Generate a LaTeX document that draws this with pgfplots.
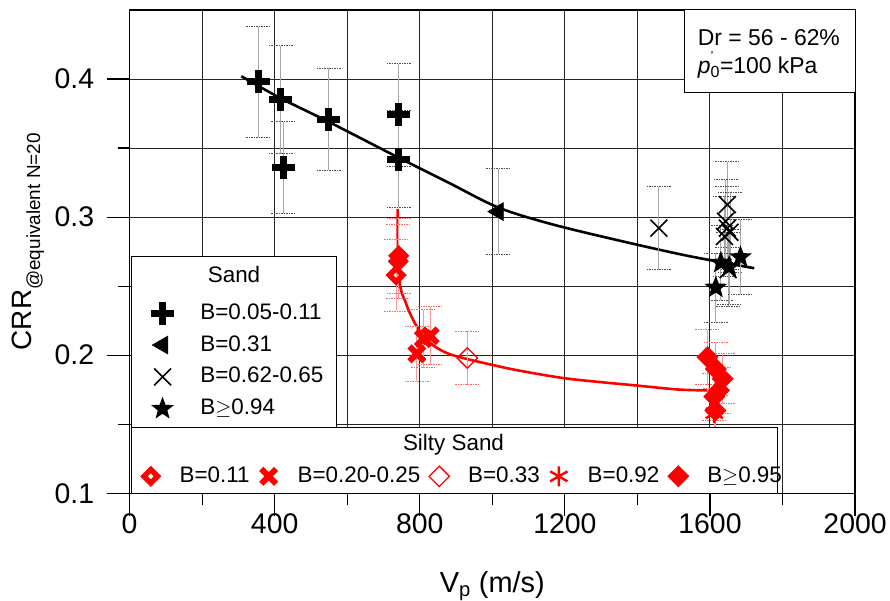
\documentclass[border=0pt]{standalone}
\usepackage{fontspec}
\setmainfont{Liberation Sans}
\usepackage{pgfplots}
\usepackage{pgfplotstable}
\pgfplotsset{compat=1.18}
\usetikzlibrary{plotmarks}

% filled five-pointed star
\pgfdeclareplotmark{fstar}{%
  \pgfmathsetmacro\ro{\pgfplotmarksize}%
  \pgfmathsetmacro\ri{0.42*\pgfplotmarksize}%
  \pgfpathmoveto{\pgfpointpolar{90}{\ro pt}}%
  \pgfpathlineto{\pgfpointpolar{126}{\ri pt}}%
  \pgfpathlineto{\pgfpointpolar{162}{\ro pt}}%
  \pgfpathlineto{\pgfpointpolar{198}{\ri pt}}%
  \pgfpathlineto{\pgfpointpolar{234}{\ro pt}}%
  \pgfpathlineto{\pgfpointpolar{270}{\ri pt}}%
  \pgfpathlineto{\pgfpointpolar{306}{\ro pt}}%
  \pgfpathlineto{\pgfpointpolar{342}{\ri pt}}%
  \pgfpathlineto{\pgfpointpolar{18}{\ro pt}}%
  \pgfpathlineto{\pgfpointpolar{54}{\ri pt}}%
  \pgfpathclose
  \pgfusepathqfill
}

% Sand, B = 0.05-0.11
\pgfplotstableread{
x    y     e
355  0.398 0.040
417  0.385 0.039
424  0.336 0.033
549  0.371 0.037
742  0.374 0.037
742  0.342 0.035
}\sandA
% Sand, B = 0.31
\pgfplotstableread{
x    y     e
1016 0.304 0.031
}\sandB
% Sand, B = 0.62-0.65
\pgfplotstableread{
x    y     e
1459 0.292 0.030
1648 0.309 0.031
1643 0.297 0.030
1648 0.292 0.030
1655 0.289 0.029
1640 0.286 0.029
1650 0.262 0.027
}\sandC
% Sand, B >= 0.94
\pgfplotstableread{
x    y     e
1684 0.271 0.027
1630 0.267 0.027
1653 0.264 0.027
1616 0.249 0.025
}\sandD
% Silty sand, B = 0.11
\pgfplotstableread{
x    y     e
742  0.272 0.027
741  0.268 0.027
735  0.258 0.026
}\siltA
% Silty sand, B = 0.20-0.25
\pgfplotstableread{
x    y     e
792  0.201 0.020
810  0.212 0.021
829  0.214 0.021
}\siltB
% Silty sand, B = 0.33
\pgfplotstableread{
x    y     e
931  0.198 0.0195
}\siltC
% Silty sand, B = 0.92
\pgfplotstableread{
x    y     e
1612 0.158 0.016
}\siltD
% Silty sand, B >= 0.95
\pgfplotstableread{
x    y     e
1593 0.1986 0.020
1616 0.190  0.019
1635 0.183  0.018
1625 0.1745 0.017
1612 0.170  0.017
1615 0.160  0.016
}\siltE

\pgfplotsset{
  greybars/.style={error bars/.cd, y dir=both, y explicit,
    error bar style={solid, black!35, line width=0.8pt},
    error mark=-,
    error mark options={rotate=90, solid, black!70, line width=0.9pt, mark size=12pt, dash pattern=on 1.5pt off 1pt},
    /pgfplots/.cd},
  redbars/.style={error bars/.cd, y dir=both, y explicit,
    error bar style={solid, red!40, line width=0.8pt},
    error mark=-,
    error mark options={rotate=90, solid, red!60, line width=0.9pt, mark size=12pt, dash pattern=on 1.5pt off 1pt},
    /pgfplots/.cd},
  mkcross/.style={black, only marks, mark=+, mark size=11.5pt, line width=7pt},
  mktri/.style={black, only marks, mark=triangle*, mark size=10.5pt, mark options={rotate=90}},
  mkx/.style={black, only marks, mark=x, mark size=12pt, line width=1.6pt},
  mkstar/.style={black, only marks, mark=fstar, mark size=12pt},
  mkdiaA/.style={red, only marks, mark=square, mark size=4.8pt, line width=5.4pt, mark options={rotate=45, fill=white, miter limit=10}},
  mkxB/.style={red, only marks, mark=x, mark size=10.5pt, line width=6pt},
  mkdiaC/.style={red, only marks, mark=square, mark size=7.2pt, line width=1.3pt, mark options={rotate=45, fill=white}},
  mkast/.style={red, only marks, mark=asterisk, mark size=10pt, line width=2.4pt},
  mkdiaE/.style={red, only marks, mark=square*, mark size=7.6pt, mark options={rotate=45}},
}

\begin{document}
\begin{tikzpicture}
\begin{axis}[
  name=main,
  width=728pt, height=485pt, scale only axis,
  xmin=0, xmax=2000, ymin=0.1, ymax=0.45,
  xtick={0,400,...,2000}, minor x tick num=1,
  ytick={0.1,0.2,0.3,0.4}, minor y tick num=1,
  grid=both,
  major grid style={black!85, line width=1pt},
  minor grid style={black!85, line width=1pt},
  axis line style={black, line width=1.4pt},
  tick style={black, line width=1.2pt},
  major tick length=23pt, minor tick length=12pt,
  tick align=outside, xtick pos=left, ytick pos=left,
  tick label style={font=\fontsize{28.5}{30}\selectfont},
  xticklabel style={yshift=6pt},
  yticklabel style={xshift=-9pt, /pgf/number format/fixed, /pgf/number format/precision=1},
  /pgf/number format/assume math mode=true,
  /pgf/number format/1000 sep={},
  xlabel={V\textsubscript{p} (m/s)},
  ylabel={CRR\raisebox{-0.3em}{\fontsize{19}{20}\selectfont @equivalent N=20}},
  xlabel style={font=\fontsize{29}{32}\selectfont, at={(axis description cs:0.5,0)}, anchor=south, yshift=-108pt, inner sep=0pt},
  ylabel style={font=\fontsize{28}{30}\selectfont, at={(axis description cs:-0.1621,0.5)}, anchor=north, inner sep=0pt, xshift=10pt},
  legend style={at={(axis cs:52,0.2400)}, anchor=north west, draw=none, fill=none,
    inner sep=0pt, font=\fontsize{22.5}{24}\selectfont, row sep=6pt,
    nodes={inner sep=3pt, text height=16pt, text depth=4pt}},
  legend cell align=left,
  legend image code/.code={%
    \path[draw=none, fill=none] (0pt,-6pt) rectangle (49pt,6pt);
    \draw[#1, overlay] plot coordinates {(14pt,0pt)};},
]
% fitted trends
\addplot[black, line width=2.6pt, smooth, forget plot] coordinates {
  (308,0.402) (417,0.386) (549,0.369) (742,0.343) (879,0.325) (1016,0.307)
  (1162,0.295) (1350,0.283) (1538,0.272) (1722,0.263)};
\addplot[red, line width=2.6pt, smooth, tension=0.5, forget plot] coordinates {
  (739,0.306) (739,0.285) (740,0.270) (742,0.259) (746,0.250) (752,0.244)
  (760,0.239) (770,0.232) (785,0.224) (800,0.2175) (820,0.211) (843,0.206)
  (880,0.201) (934,0.197) (1000,0.193) (1071,0.189) (1209,0.183) (1400,0.178)
  (1511,0.1752) (1593,0.1745)};

% legend frame for sand
\draw[fill=white, line width=1pt] (axis cs:4,0.1469) rectangle (axis cs:571,0.2716);
\node[font=\fontsize{22.5}{24}\selectfont] at (axis cs:288,0.2587) {Sand};

% test conditions
\draw[fill=white, line width=1pt] (axis cs:1530,0.3906) rectangle (axis cs:2000,0.45);
\node[anchor=west, inner sep=0pt, font=\fontsize{23}{25}\selectfont] at (axis cs:1566,0.4303) {Dr = 56 - 62\%};
\node[anchor=west, inner sep=0pt, font=\fontsize{23}{25}\selectfont] at (axis cs:1566,0.4100)
  {\textit{p}\makebox[0pt][l]{\raisebox{0.55em}{\fontsize{13}{13}\selectfont '}}\textsubscript{0}=100 kPa};

% sand
\addplot[mkcross, greybars] table[x=x, y=y, y error=e] {\sandA};
\addlegendentry{B=0.05-0.11}
\addplot[mktri, greybars] table[x=x, y=y, y error=e] {\sandB};
\addlegendentry{B=0.31}
\addplot[mkx, greybars] table[x=x, y=y, y error=e] {\sandC};
\addlegendentry{B=0.62-0.65}
\addplot[mkstar, greybars] table[x=x, y=y, y error=e] {\sandD};
\addlegendentry{B$\geq$0.94}

% silty sand
\addplot[forget plot, mkdiaA, redbars] table[x=x, y=y, y error=e] {\siltA};
\addplot[forget plot, mkxB, redbars] table[x=x, y=y, y error=e] {\siltB};
\addplot[forget plot, mkdiaC, redbars] table[x=x, y=y, y error=e] {\siltC};
\addplot[forget plot, mkast, redbars] table[x=x, y=y, y error=e] {\siltD};
\addplot[forget plot, mkdiaE, redbars] table[x=x, y=y, y error=e] {\siltE};
\end{axis}

\begin{axis}[
  width=728pt, height=485pt, scale only axis, hide axis,
  xmin=0, xmax=2000, ymin=0.1, ymax=0.45,
  legend columns=5,
  legend style={at={(axis cs:19.5,0.1123)}, anchor=west, draw=none, fill=none,
    inner sep=0pt, font=\fontsize{22.5}{24}\selectfont,
    nodes={inner sep=2pt, text height=16pt, text depth=4pt},
    /tikz/every even column/.append style={column sep=3pt}},
  legend image code/.code={%
    \path[draw=none, fill=none] (0pt,-6pt) rectangle (41pt,6pt);
    \draw[#1, overlay] plot coordinates {(14pt,0pt)};},
]
% legend frame for silty sand
\draw[fill=white, line width=1pt] (axis cs:4,0.1) rectangle (axis cs:1786,0.1476);
\node[font=\fontsize{22.5}{24}\selectfont] at (axis cs:893,0.1353) {Silty Sand};
\addlegendimage{mkdiaA}\addlegendentry{B=0.11}
\addlegendimage{mkxB}\addlegendentry{B=0.20-0.25}
\addlegendimage{mkdiaC}\addlegendentry{B=0.33}
\addlegendimage{mkast}\addlegendentry{B=0.92}
\addlegendimage{mkdiaE}\addlegendentry{B$\geq$0.95}
\end{axis}

% page margins around the plot area
\path (main.south west) ++(-130pt,-108pt) (main.north east) ++(32pt,10pt);
\end{tikzpicture}
\end{document}
